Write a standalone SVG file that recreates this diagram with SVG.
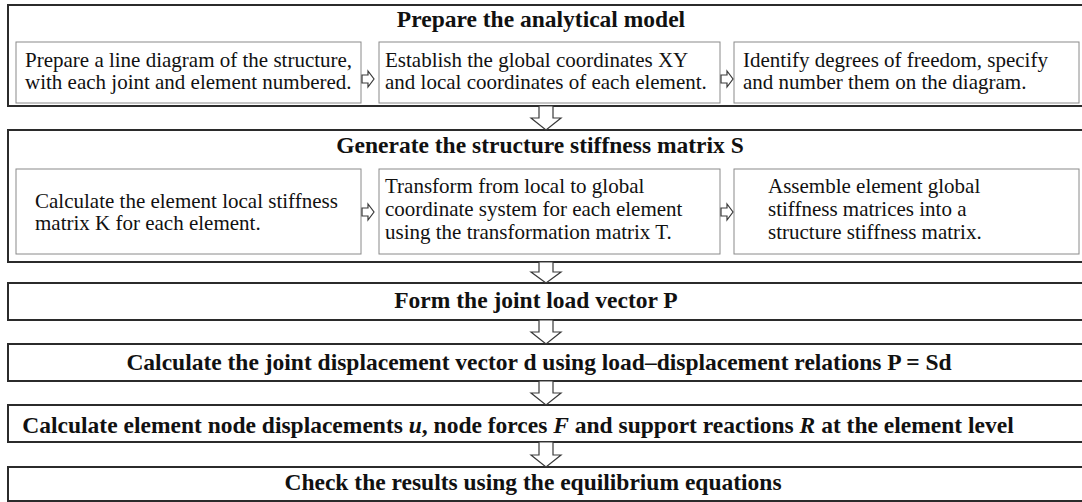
<svg xmlns="http://www.w3.org/2000/svg" width="1082" height="502" viewBox="0 0 1082 502">
<style>
.outer{fill:#fff;stroke:#2b2b2b;stroke-width:2}
.inner{fill:#fff;stroke:#8a8a8a;stroke-width:1}
.arr{fill:#fff;stroke:#3a3a3a;stroke-width:1.2;stroke-linejoin:miter}
.t{font-family:"Liberation Serif","Times New Roman",serif;font-size:21px;fill:#111}
.b{font-family:"Liberation Serif","Times New Roman",serif;font-size:23.5px;font-weight:bold;fill:#111;text-anchor:middle}
.i{font-style:italic}
</style>
<rect width="1082" height="502" fill="#fff"/>
<g id="stage1">
<rect class="outer" x="8" y="5" width="1080" height="101"/>
<text class="b" x="541" y="27">Prepare the analytical model</text>
</g>
<g id="step1a">
<rect class="inner" x="16" y="42" width="345" height="61"/>
<text class="t" x="25" y="67">Prepare a line diagram of the structure,</text>
<text class="t" x="25" y="89">with each joint and element numbered.</text>
</g>
<g id="step1b">
<rect class="inner" x="379" y="42" width="341" height="61"/>
<text class="t" x="385" y="67">Establish the global coordinates XY</text>
<text class="t" x="385" y="89">and local coordinates of each element.</text>
</g>
<g id="step1c">
<rect class="inner" x="734" y="42" width="345" height="61"/>
<text class="t" x="743" y="67">Identify degrees of freedom, specify</text>
<text class="t" x="743" y="89">and number them on the diagram.</text>
</g>
<g id="stage2">
<rect class="outer" x="8" y="130" width="1080" height="132"/>
<text class="b" x="540" y="153">Generate the structure stiffness matrix S</text>
</g>
<g id="step2a">
<rect class="inner" x="16" y="169" width="345" height="85"/>
<text class="t" x="35" y="208">Calculate the element local stiffness</text>
<text class="t" x="35" y="230">matrix K for each element.</text>
</g>
<g id="step2b">
<rect class="inner" x="379" y="169" width="341" height="85"/>
<text class="t" x="385" y="193">Transform from local to global</text>
<text class="t" x="385" y="216">coordinate system for each element</text>
<text class="t" x="385" y="239">using the transformation matrix T.</text>
</g>
<g id="step2c">
<rect class="inner" x="734" y="169" width="345" height="85"/>
<text class="t" x="768" y="193">Assemble element global</text>
<text class="t" x="768" y="216">stiffness matrices into a</text>
<text class="t" x="768" y="239">structure stiffness matrix.</text>
</g>
<g id="stage3">
<rect class="outer" x="8" y="283" width="1080" height="37"/>
<text class="b" x="536" y="308">Form the joint load vector P</text>
</g>
<g id="stage4">
<rect class="outer" x="8" y="344" width="1080" height="37"/>
<text class="b" x="539" y="370">Calculate the joint displacement vector d using load–displacement relations P = Sd</text>
</g>
<g id="stage5">
<rect class="outer" x="8" y="405" width="1080" height="37"/>
<text class="b" x="518" y="433">Calculate element node displacements <tspan class="i">u</tspan>, node forces <tspan class="i">F</tspan> and support reactions <tspan class="i">R</tspan> at the element level</text>
</g>
<g id="stage6">
<rect class="outer" x="8" y="467" width="1080" height="34"/>
<text class="b" x="533" y="490">Check the results using the equilibrium equations</text>
</g>
<g id="connectors">
<polygon class="arr" points="362,75 368,75 368,71 374,79 368,87 368,83 362,83"/>
<polygon class="arr" points="721,75 727,75 727,71 733,79 727,87 727,83 721,83"/>
<polygon class="arr" points="362,208 368,208 368,204 374,212 368,220 368,216 362,216"/>
<polygon class="arr" points="721,208 727,208 727,204 733,212 727,220 727,216 721,216"/>
<polygon class="arr" points="539,106 553,106 553,118 561,118 546,130 531,118 539,118"/>
<polygon class="arr" points="539,262 553,262 553,272 561,272 546,283 531,272 539,272"/>
<polygon class="arr" points="539,320 553,320 553,332 561,332 546,344 531,332 539,332"/>
<polygon class="arr" points="539,381 553,381 553,393 561,393 546,405 531,393 539,393"/>
<polygon class="arr" points="539,442 553,442 553,455 561,455 546,467 531,455 539,455"/>
</g>
</svg>
